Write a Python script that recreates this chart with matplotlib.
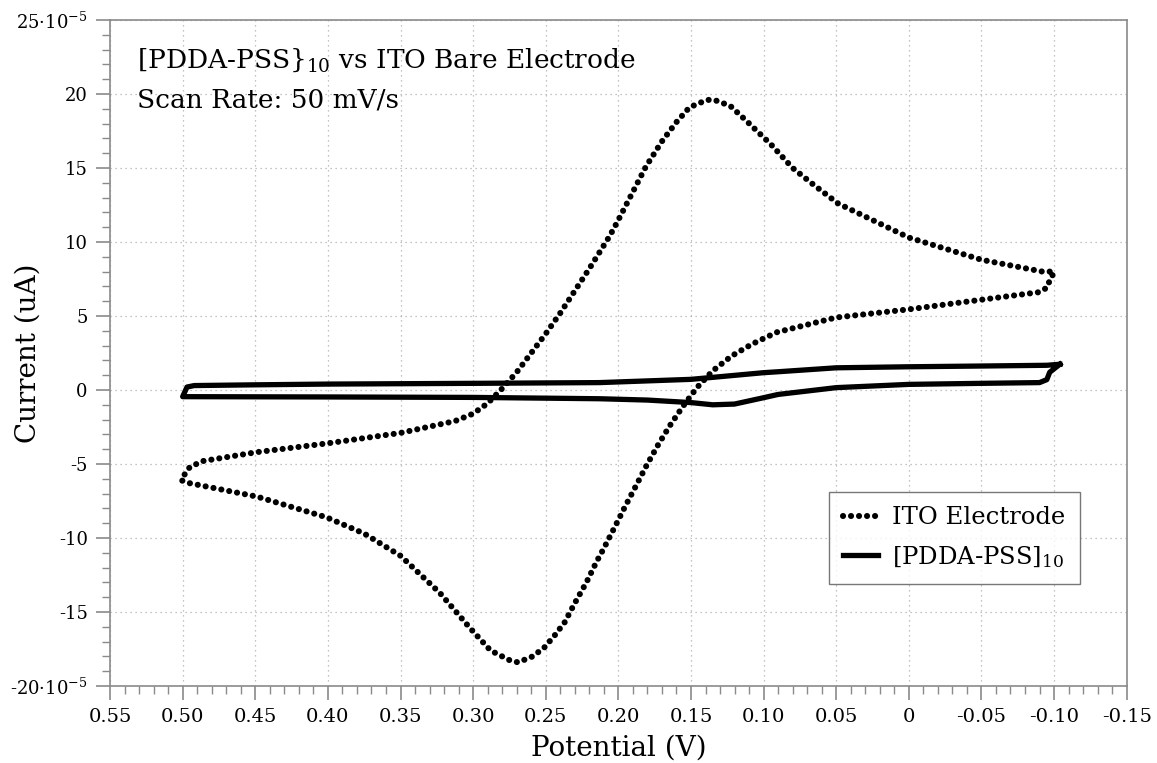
import matplotlib
matplotlib.use("Agg")
import matplotlib.pyplot as plt
from matplotlib.ticker import MultipleLocator, FuncFormatter

# ITO bare electrode CV (potential in V, current in 1e-5 units)
ito_E = [-0.097, -0.092, -0.05, 0.0, 0.0487, 0.066, 0.08, 0.095, 0.112, 0.123,
         0.134, 0.139, 0.151, 0.160, 0.170, 0.181, 0.191, 0.201, 0.206, 0.22,
         0.23, 0.24, 0.25, 0.26, 0.27, 0.28, 0.29, 0.30, 0.3125, 0.35,
         0.40, 0.449, 0.486, 0.495, 0.498, 0.501,
         0.495, 0.449, 0.401, 0.375, 0.35, 0.323, 0.3125, 0.302, 0.288, 0.274,
         0.269, 0.259, 0.251, 0.244, 0.237, 0.230, 0.222, 0.215, 0.210, 0.2027,
         0.1955, 0.188, 0.1806, 0.1726, 0.1645, 0.1555, 0.146, 0.135, 0.122,
         0.108, 0.091, 0.05, 0.0, -0.05, -0.089, -0.095, -0.097, -0.099, -0.097]
ito_I = [8.0, 8.0, 8.8, 10.3, 12.6, 13.9, 15.0, 16.6, 18.2, 19.2,
         19.6, 19.6, 19.1, 18.1, 16.8, 15.1, 13.2, 11.3, 10.4, 8.2,
         6.7, 5.2, 3.8, 2.5, 1.2, 0.1, -0.9, -1.6, -2.1, -2.9,
         -3.6, -4.2, -4.8, -5.2, -5.6, -6.1,
         -6.3, -7.2, -8.6, -9.7, -11.2, -13.7, -14.9, -16.1, -17.6, -18.3,
         -18.4, -18.0, -17.4, -16.6, -15.7, -14.4, -13.0, -11.6, -10.7, -9.3,
         -7.9, -6.5, -5.1, -3.7, -2.4, -1.1, 0.15, 1.3, 2.3,
         3.1, 3.9, 4.9, 5.45, 6.1, 6.6, 6.9, 7.4, 7.75, 8.0]

# [PDDA-PSS]10 modified electrode
pdda_E = [-0.104, -0.095, -0.05, 0.0, 0.05, 0.089, 0.10, 0.15, 0.213, 0.30,
          0.40, 0.45, 0.492, 0.497, 0.50,
          0.50, 0.40, 0.30, 0.213, 0.18, 0.15, 0.135, 0.12, 0.10, 0.09,
          0.05, 0.0, -0.05, -0.09, -0.095, -0.097, -0.104]
pdda_I = [1.74, 1.67, 1.62, 1.57, 1.5, 1.24, 1.17, 0.72, 0.5, 0.45,
          0.4, 0.35, 0.3, 0.2, -0.45,
          -0.45, -0.47, -0.5, -0.59, -0.68, -0.85, -1.0, -0.95, -0.52, -0.3,
          0.16, 0.38, 0.45, 0.5, 0.7, 1.2, 1.74]

x_ticks = [0.55, 0.50, 0.45, 0.40, 0.35, 0.30, 0.25, 0.20, 0.15, 0.10, 0.05, 0, -0.05, -0.10, -0.15]
y_ticks = [-20, -15, -10, -5, 0, 5, 10, 15, 20, 25]

plt.rcParams["font.family"] = ["DejaVu Serif"]
plt.rcParams["mathtext.fontset"] = "dejavuserif"

fig = plt.figure(figsize=(11.57, 7.63), dpi=100)
ax = fig.add_axes([0.0951, 0.1009, 0.8787, 0.8729])

ax.plot(ito_E, ito_I, color="black", linewidth=4.4, linestyle=(0, (0.01, 1.3)),
        dash_capstyle="round", label="ITO Electrode")
ax.plot(pdda_E, pdda_I, color="black", linewidth=3.8, solid_joinstyle="round",
        label="[PDDA-PSS]$_{10}$")

ax.set_xlim(0.55, -0.15)
ax.set_ylim(-20, 25)
ax.set_xticks(x_ticks)
ax.set_yticks(y_ticks)
ax.xaxis.set_minor_locator(MultipleLocator(0.01))
ax.yaxis.set_minor_locator(MultipleLocator(1))


def fmt_x(v, pos):
    if abs(v) < 1e-9:
        return "0"
    return f"{v:.2f}"


def fmt_y(v, pos):
    v = int(round(v))
    if v in (25, -20):
        return f"{v}·10$^{{-5}}$"
    return str(v)


ax.xaxis.set_major_formatter(FuncFormatter(fmt_x))
ax.yaxis.set_major_formatter(FuncFormatter(fmt_y))

ax.grid(True, which="major", linestyle=(0, (1, 3)), color="#b0b0b0", linewidth=0.9)
for s in ax.spines.values():
    s.set_color("#8a8a8a")
    s.set_linewidth(1.2)
ax.tick_params(which="major", length=10, width=1.2, color="#8a8a8a", labelsize=14, pad=6)
ax.tick_params(axis="y", which="major", labelsize=13)
ax.tick_params(which="minor", length=6, width=1.0, color="#8a8a8a")

ax.set_xlabel("Potential (V)", fontsize=20, labelpad=6)
ax.set_ylabel("Current (uA)", fontsize=20)
ax.yaxis.set_label_coords(-0.067, 0.5)

ax.text(0.0265, 0.94, "[PDDA-PSS}$_{10}$ vs ITO Bare Electrode", transform=ax.transAxes,
        fontsize=19, va="center")
ax.text(0.0265, 0.88, "Scan Rate: 50 mV/s", transform=ax.transAxes, fontsize=19, va="center")

leg = ax.legend(loc="lower right", bbox_to_anchor=(0.954, 0.153), fontsize=17.5, frameon=True,
                fancybox=False, handlelength=1.4, handletextpad=0.6, borderpad=0.6,
                labelspacing=0.6, borderaxespad=0)
leg.get_frame().set_edgecolor("#555555")
leg.get_frame().set_linewidth(1.0)

fig.savefig("out.png", dpi=100)
